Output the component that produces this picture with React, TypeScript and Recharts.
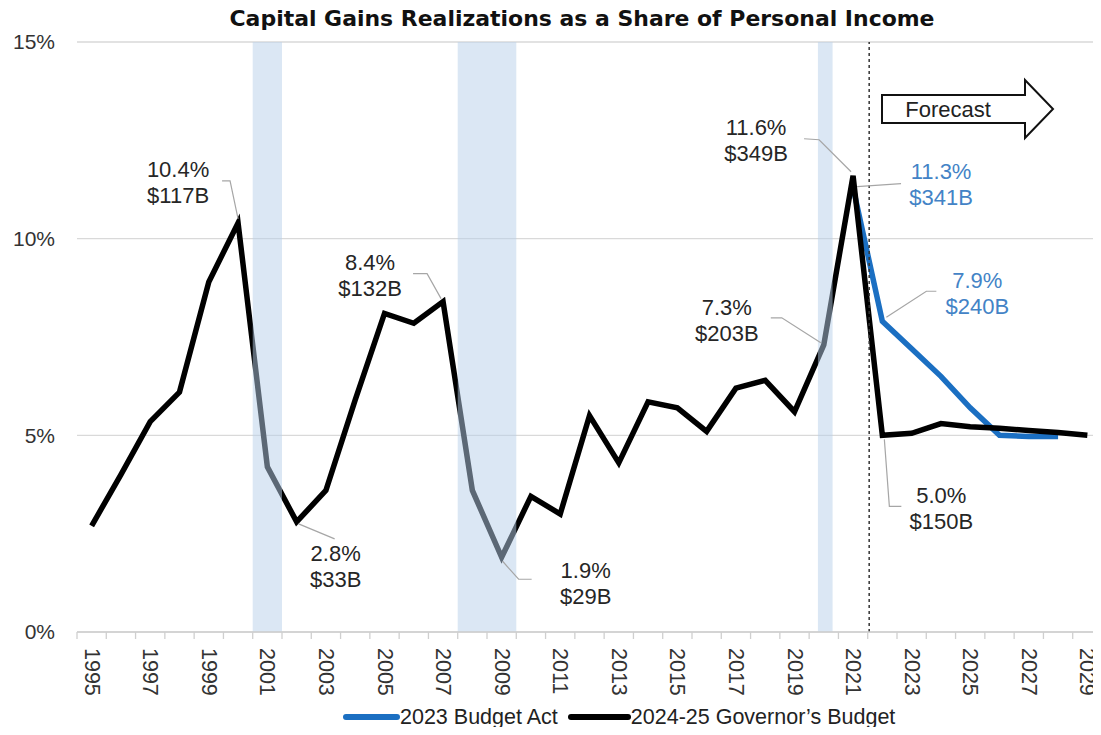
import React from 'react';
import { LineChart, Line, XAxis, YAxis, CartesianGrid, ReferenceArea, ReferenceLine, ReferenceDot, Legend } from 'recharts';

// share of personal income, %
const years = [
  1995, 1996, 1997, 1998, 1999, 2000, 2001, 2002, 2003, 2004, 2005, 2006, 2007, 2008, 2009, 2010, 2011, 2012,
  2013, 2014, 2015, 2016, 2017, 2018, 2019, 2020, 2021, 2022, 2023, 2024, 2025, 2026, 2027, 2028, 2029,
];
const governorsBudget = [
  2.7, 4.0, 5.35, 6.1, 8.9, 10.4, 4.2, 2.8, 3.6, 5.9, 8.1, 7.85, 8.4, 3.6, 1.9, 3.45, 3.0, 5.5,
  4.3, 5.85, 5.7, 5.1, 6.2, 6.4, 5.6, 7.3, 11.6, 5.0, 5.05, 5.3, 5.22, 5.18, 5.12, 5.07, 5.0,
];
const budgetAct: (number | null)[] = [
  null, null, null, null, null, null, null, null, null, null, null, null, null, null, null, null, null, null,
  null, null, null, null, null, null, null, null, 11.3, 7.9, 7.2, 6.5, 5.7, 5.0, 4.97, 4.97, null,
];
const yTicks = [0, 5, 10, 15];
const recessions: [number, number][] = [[2000.5, 2001.5], [2007.5, 2009.5], [2019.8, 2020.3]];
const forecastStart = 2021.55;

const noteYears = [2000, 2002, 2007, 2009, 2020, 2021, 2021, 2022, 2022];
const noteSeries = ['gov', 'gov', 'gov', 'gov', 'gov', 'gov', 'act', 'act', 'gov'];
const noteText = [
  ['10.4%', '$117B'], ['2.8%', '$33B'], ['8.4%', '$132B'], ['1.9%', '$29B'], ['7.3%', '$203B'],
  ['11.6%', '$349B'], ['11.3%', '$341B'], ['7.9%', '$240B'], ['5.0%', '$150B'],
];
// label placement relative to the point: text centre dx, first line dy, leader polyline
const noteLayout = [
  { dx: -60, dy: -53, leader: [[-16, -42], [-8, -42], [0, -4]] },
  { dx: 39, dy: 32, leader: [[2, 2], [38, 17]] },
  { dx: -73, dy: -39, leader: [[-30, -28], [-16, -28], [-2, -3]] },
  { dx: 84, dy: 13, leader: [[1, 4], [17, 22], [30, 22]] },
  { dx: -97, dy: -37, leader: [[-53, -27], [-42, -27], [-3, -2]] },
  { dx: -97, dy: -48, leader: [[-49, -37], [-34, -36], [-2, -4]] },
  { dx: 88, dy: -16, leader: [[48, -4], [4, -1]] },
  { dx: 95, dy: -41, leader: [[54, -30], [44, -30], [4, -4]] },
  { dx: 59, dy: 60, leader: [[2, 4], [7, 71], [19, 71]] },
];

const BLUE = '#1b6fc2';
const BLUE_TEXT = '#4383c6';
const TEXT = '#262626';

const rows = years.map((year, i) => ({ year, gov: governorsBudget[i], act: budgetAct[i] }));

const CHART_W = 1102;
const PLOT_LEFT = 77;
const HALF_STEP = (CHART_W - PLOT_LEFT) / 35 / 2;

const YearTick = (props: any) => {
  const { x, y, payload } = props;
  const yr = payload.value;
  const ty = y + 16;
  return (
    <g>
      <line x1={x - HALF_STEP} x2={x - HALF_STEP} y1={y} y2={y + 7} stroke="#cfcfcf" strokeWidth={1.3} />
      {yr === 2029 && <line x1={x + HALF_STEP} x2={x + HALF_STEP} y1={y} y2={y + 7} stroke="#cfcfcf" strokeWidth={1.3} />}
      {yr % 2 === 1 && (
        <text x={x} y={ty} transform={`rotate(90, ${x}, ${ty})`} textAnchor="start" dominantBaseline="central" fontSize={21.5} fill="#333">
          {yr}
        </text>
      )}
    </g>
  );
};

const Note = ({ cx, cy, idx }: any) => {
  const lay = noteLayout[idx];
  const color = noteSeries[idx] === 'act' ? BLUE_TEXT : TEXT;
  const pts = lay.leader.map(([a, b]) => `${cx + a},${cy + b}`).join(' ');
  return (
    <g>
      <polyline points={pts} fill="none" stroke="#a6a6a6" strokeWidth={1.2} />
      <text x={cx + lay.dx} y={cy + lay.dy} textAnchor="middle" dominantBaseline="central" fontSize={22} fill={color}>
        {noteText[idx][0]}
      </text>
      <text x={cx + lay.dx} y={cy + lay.dy + 26} textAnchor="middle" dominantBaseline="central" fontSize={22} fill={color}>
        {noteText[idx][1]}
      </text>
    </g>
  );
};

const LegendBox = () => (
  <div style={{ width: 1100, height: 30, paddingLeft: 343, boxSizing: 'border-box', fontSize: 21.5, lineHeight: '24px', color: '#222', display: 'flex', alignItems: 'flex-start' }}>
    <svg width={57} height={24}><line x1={3} x2={54} y1={12} y2={12} stroke={BLUE} strokeWidth={6} strokeLinecap="round" /></svg>
    <span style={{ marginRight: 10 }}>2023 Budget Act</span>
    <svg width={63} height={24}><line x1={3} x2={60} y1={12} y2={12} stroke="#000" strokeWidth={6} strokeLinecap="round" /></svg>
    <span>2024-25 Governor’s Budget</span>
  </div>
);

export default function App() {
  return (
    <div style={{ margin: -8, width: 1101, height: 735, position: 'relative', overflow: 'hidden', background: '#fff', fontFamily: '"Liberation Sans", Arial, sans-serif' }}>
      <LineChart width={CHART_W} height={735} data={rows} margin={{ top: 42, right: 0, left: 0, bottom: 0 }}>
        <CartesianGrid vertical={false} stroke="#d9d9d9" strokeWidth={1.3} />
        <XAxis
          dataKey="year"
          type="number"
          domain={[1994.5, 2029.5]}
          ticks={years}
          interval={0}
          tick={<YearTick />}
          tickLine={false}
          tickSize={0}
          tickMargin={0}
          height={73}
          axisLine={{ stroke: '#cfcfcf', strokeWidth: 1.3 }}
        />
        <YAxis
          domain={[0, 15]}
          ticks={yTicks}
          tickFormatter={(v: number) => `${v}%`}
          width={PLOT_LEFT}
          axisLine={false}
          tickLine={false}
          tickSize={0}
          tickMargin={22}
          tick={{ fill: '#333', fontSize: 21 }}
        />
        <Line dataKey="act" name="2023 Budget Act" stroke={BLUE} strokeWidth={5.5} dot={false} isAnimationActive={false} />
        <Line dataKey="gov" name="2024-25 Governor's Budget" stroke="#000" strokeWidth={5.5} dot={false} isAnimationActive={false} />
        {recessions.map(([a, b], i) => (
          <ReferenceArea key={i} x1={a} x2={b} y1={0} y2={15} fill="#b8d0ea" fillOpacity={0.5} stroke="none" zIndex={450} />
        ))}
        <ReferenceLine x={forecastStart} stroke="#333" strokeDasharray="3 3" strokeWidth={1.5} zIndex={460} />
        {noteYears.map((yr, i) => {
          const j = years.indexOf(yr);
          const v = noteSeries[i] === 'act' ? budgetAct[j] : governorsBudget[j];
          return (
            <ReferenceDot key={i} x={yr} y={v as number} r={1} fill="none" stroke="none" zIndex={2000} shape={(p: any) => <Note cx={p.cx} cy={p.cy} idx={i} />} />
          );
        })}
        <Legend verticalAlign="bottom" content={<LegendBox />} />
      </LineChart>
      <svg width={1101} height={735} style={{ position: 'absolute', left: 0, top: 0, pointerEvents: 'none' }}>
        <text
          x={582}
          y={18}
          textAnchor="middle"
          dominantBaseline="central"
          fontSize={22}
          fontWeight="bold"
          fill="#111"
          fontFamily='"DejaVu Sans", sans-serif'
          textLength={705}
          lengthAdjust="spacingAndGlyphs"
        >
          Capital Gains Realizations as a Share of Personal Income
        </text>
        <polygon points="882,95 1025,95 1025,80 1053,109 1025,138 1025,123 882,123" fill="#fff" stroke="#111" strokeWidth={2} />
        <text x={948} y={109} textAnchor="middle" dominantBaseline="central" fontSize={22} fill="#222">
          Forecast
        </text>
      </svg>
    </div>
  );
}
